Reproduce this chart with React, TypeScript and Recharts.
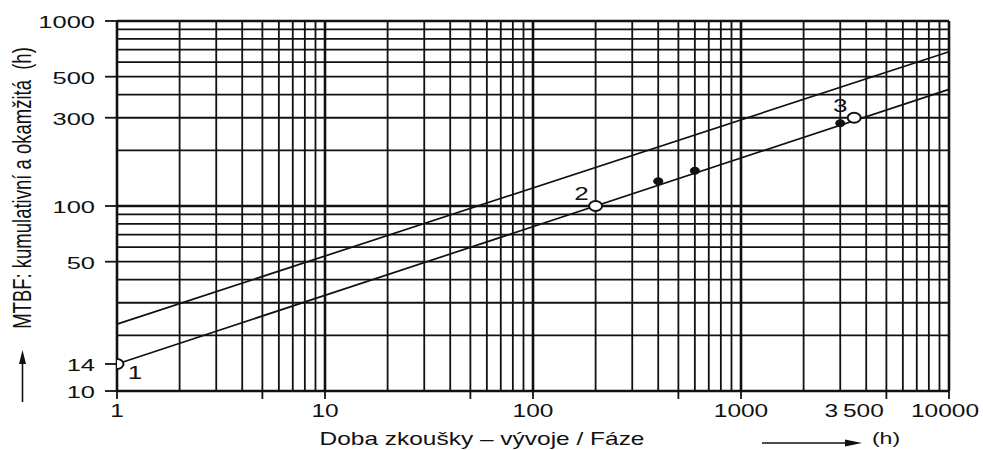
import React from "react";
import { ComposedChart, XAxis, YAxis, ReferenceLine, Scatter } from "recharts";

const FONT = "'Liberation Sans', Arial, Helvetica, sans-serif";
const INK = "#111111";

// log grid: 1..9 in every decade
const X_GRID = [
  1, 2, 3, 4, 5, 6, 7, 8, 9,
  10, 20, 30, 40, 50, 60, 70, 80, 90,
  100, 200, 300, 400, 500, 600, 700, 800, 900,
  1000, 2000, 3000, 4000, 5000, 6000, 7000, 8000, 9000,
  10000,
];
const Y_GRID = [
  10, 20, 30, 40, 50, 60, 70, 80, 90,
  100, 200, 300, 400, 500, 600, 700, 800, 900,
  1000,
];
const X_MAJOR = [1, 10, 100, 1000, 10000];
const Y_MAJOR = [10, 100, 1000];

const Y_TICKS = [10, 14, 50, 100, 300, 500, 1000];
const X_LABELS = [1, 10, 100, 1000, 3500, 10000];
const X_LABEL_TEXT = ["1", "10", "100", "1000", "3\u2009500", "10000"];
const X_MARKS = [1, 5, 10, 50, 100, 500, 1000, 5000, 10000];
const X_TICKS = [1, 5, 10, 50, 100, 500, 1000, 3500, 5000, 10000];

// MTBF lines (cumulative / instantaneous)
const upperLine = [
  { x: 1, y: 23 },
  { x: 10000, y: 682 },
];
const lowerLine = [
  { x: 1, y: 14 },
  { x: 10000, y: 427 },
];

const phasePoints = [
  { x: 1, y: 14, label: "1" },
  { x: 200, y: 100, label: "2" },
  { x: 3500, y: 300, label: "3" },
];
const measuredPoints = [
  { x: 400, y: 136 },
  { x: 600, y: 155 },
  { x: 3000, y: 280 },
];

const LABEL_OFFSET: Record<string, [number, number]> = {
  "1": [18, 15],
  "2": [-14, -6],
  "3": [-14, -6],
};

function YTick({ x, y, payload }: any) {
  return (
    <g>
      <line x1={x - 12} x2={x} y1={y} y2={y} stroke={INK} strokeWidth={1.8} />
      <text
        transform={`translate(${x - 22},${y + 7}) scale(1.5,1)`}
        textAnchor="end"
        fontSize={17}
        fontFamily={FONT}
        fill={INK}
      >
        {payload.value}
      </text>
    </g>
  );
}

function XTick({ x, y, payload }: any) {
  const v = payload.value;
  const li = X_LABELS.indexOf(v);
  const last = v === 10000;
  return (
    <g>
      {X_MARKS.includes(v) && (
        <line x1={x} x2={x} y1={y} y2={y + 8} stroke={INK} strokeWidth={1.8} />
      )}
      {li >= 0 && (
        <text
          transform={`translate(${last ? x - 4 : x},${y + 26}) scale(1.4,1)`}
          textAnchor="middle"
          fontSize={17.5}
          fontFamily={FONT}
          fill={INK}
        >
          {X_LABEL_TEXT[li]}
        </text>
      )}
    </g>
  );
}

function PhaseDot({ cx, cy, payload }: any) {
  const [dx, dy] = LABEL_OFFSET[payload.label] || [0, 0];
  return (
    <g>
      <ellipse cx={cx} cy={cy} rx={6.5} ry={5} fill="#fff" stroke={INK} strokeWidth={2} />
      <text
        transform={`translate(${cx + dx},${cy + dy}) scale(1.45,1)`}
        textAnchor="middle"
        fontSize={18}
        fontFamily={FONT}
        fill={INK}
      >
        {payload.label}
      </text>
    </g>
  );
}

function MeasuredDot({ cx, cy }: any) {
  return <ellipse cx={cx} cy={cy} rx={5} ry={4} fill={INK} />;
}

export default function App() {
  return (
    <div style={{ position: "absolute", left: 0, top: 0, width: 983, height: 450, background: "#fff" }}>
      <ComposedChart
        width={983}
        height={450}
        margin={{ top: 21, right: 34, left: 0, bottom: 0 }}
      >
        <XAxis
          dataKey="x"
          type="number"
          scale="log"
          domain={[1, 10000]}
          ticks={X_TICKS}
          interval={0}
          height={59}
          axisLine={false}
          tickLine={false}
          tickSize={0}
          tickMargin={0}
          tick={<XTick />}
          allowDataOverflow
        />
        <YAxis
          dataKey="y"
          type="number"
          scale="log"
          domain={[10, 1000]}
          ticks={Y_TICKS}
          interval={0}
          width={117}
          axisLine={false}
          tickLine={false}
          tickSize={0}
          tickMargin={0}
          tick={<YTick />}
          allowDataOverflow
        />

        {/* ── log grid ── */}
        {X_GRID.map((v) => (
          <ReferenceLine
            key={`gx-${v}`}
            x={v}
            stroke={INK}
            strokeWidth={X_MAJOR.includes(v) ? 2.6 : 1.8}
            ifOverflow="visible"
          />
        ))}
        {Y_GRID.map((v) => (
          <ReferenceLine
            key={`gy-${v}`}
            y={v}
            stroke={INK}
            strokeWidth={Y_MAJOR.includes(v) ? 2.4 : 1.8}
            ifOverflow="visible"
          />
        ))}

        {/* ── MTBF lines ── */}
        <ReferenceLine segment={upperLine} stroke={INK} strokeWidth={1.7} ifOverflow="visible" />
        <ReferenceLine segment={lowerLine} stroke={INK} strokeWidth={1.7} ifOverflow="visible" />

        <Scatter data={measuredPoints} shape={<MeasuredDot />} isAnimationActive={false} />
        <Scatter data={phasePoints} shape={<PhaseDot />} isAnimationActive={false} />
      </ComposedChart>

      <svg
        width={983}
        height={450}
        style={{ position: "absolute", left: 0, top: 0, pointerEvents: "none" }}
      >
        <text
          transform="translate(22,188) scale(1.4,1) rotate(-90)"
          textAnchor="middle"
          dominantBaseline="central"
          fontSize={18.5}
          fontFamily={FONT}
          fill={INK}
        >
          {"MTBF: kumulativní a okamžitá\u00A0 (h)"}
        </text>
        <line x1={22.5} x2={22.5} y1={402} y2={362} stroke={INK} strokeWidth={1.6} />
        <polygon points="19,364 22.5,350 26,364" fill={INK} />

        <text
          transform="translate(482,445) scale(1.36,1)"
          textAnchor="middle"
          fontSize={18}
          fontFamily={FONT}
          fill={INK}
        >
          Doba zkoušky – vývoje / Fáze
        </text>
        <line x1={762} x2={850} y1={443} y2={443} stroke={INK} strokeWidth={1.6} />
        <polygon points="845,439.5 862,443 845,446.5" fill={INK} />
        <text
          transform="translate(886,444) scale(1.36,1)"
          textAnchor="middle"
          fontSize={17}
          fontFamily={FONT}
          fill={INK}
        >
          (h)
        </text>
      </svg>
    </div>
  );
}
